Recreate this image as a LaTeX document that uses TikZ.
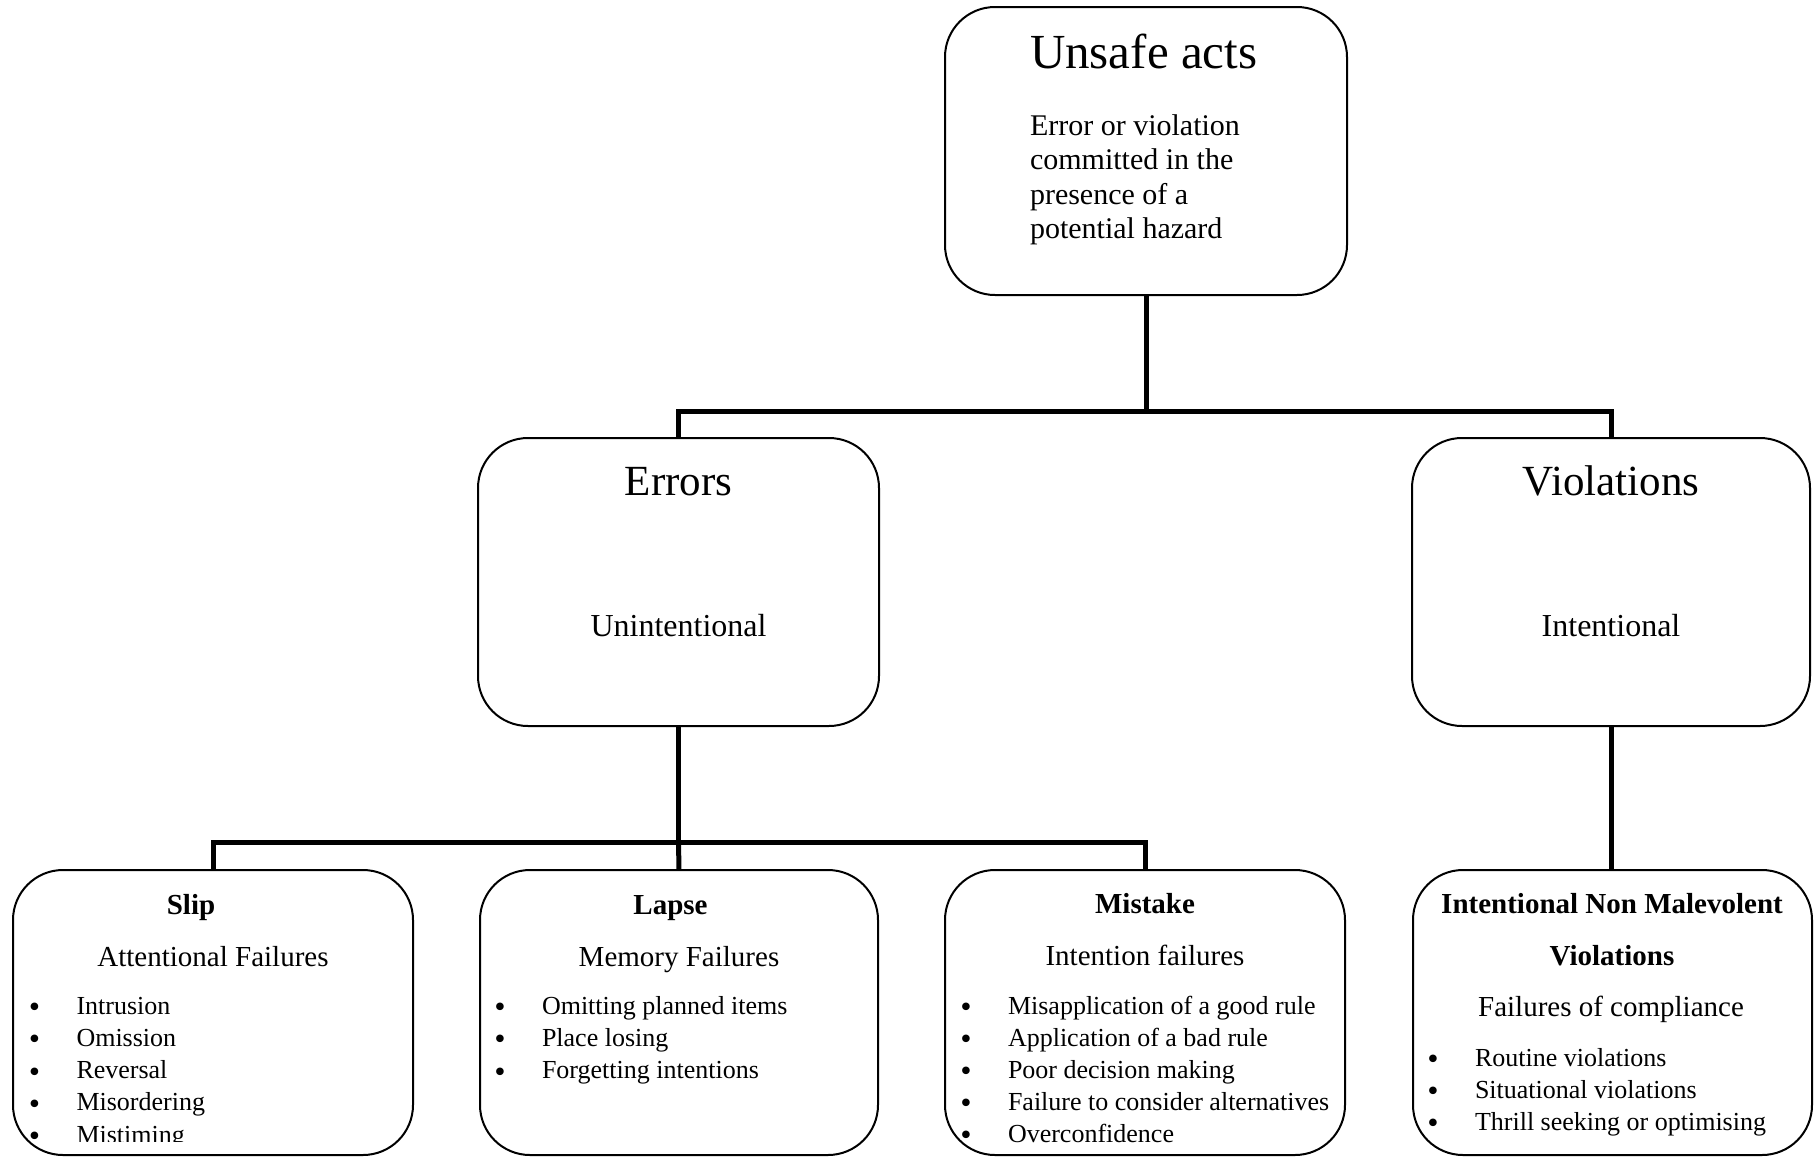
\documentclass[tikz,border=0pt]{standalone}
\usepackage{fontspec}
\setmainfont{Liberation Serif}
\newfontfamily\bulletfont{DejaVu Sans}
% one list entry: bullet centred on the anchor point, text 42pt to its right
\newcommand\bulletitem[1]{\makebox[0pt]{\raisebox{-2.5pt}{\bulletfont\symbol{"2022}}}\hspace{42pt}#1}
\tikzset{
  box/.style={draw, line width=2pt, rounded corners=50pt, inner sep=0pt, outer sep=0pt, anchor=north west},
  link/.style={line width=5pt, line join=miter},
  txt/.style={inner sep=0pt, outer sep=0pt, anchor=base},
  ltxt/.style={txt, anchor=base west},
  fbig/.style={font=\fontsize{49}{58}\selectfont},
  fhead/.style={font=\fontsize{43}{50}\selectfont},
  fsub/.style={font=\fontsize{32}{38}\selectfont},
  fbody/.style={font=\fontsize{30}{36}\selectfont},
  ftitle/.style={font=\bfseries\fontsize{29}{34}\selectfont},
  flabel/.style={font=\fontsize{29}{34}\selectfont},
  fitem/.style={font=\fontsize{26}{31}\selectfont},
}
\begin{document}
\begin{tikzpicture}[x=1pt,y=-1pt]
\useasboundingbox (0,0) rectangle (1816,1157);

% boxes
\node[box, minimum width=402pt, minimum height=288pt] (top) at (945,7) {};
\node[box, minimum width=401pt, minimum height=288pt] (err) at (478,438) {};
\node[box, minimum width=398pt, minimum height=288pt] (viol) at (1412,438) {};
\node[box, minimum width=400pt, minimum height=285pt] (slip) at (13,870) {};
\node[box, minimum width=398pt, minimum height=285pt] (lapse) at (480,870) {};
\node[box, minimum width=400pt, minimum height=285pt] (mist) at (945,870) {};
\node[box, minimum width=399pt, minimum height=285pt] (inm) at (1413,870) {};

% connectors
\coordinate (j1) at (1146,411);
\coordinate (j2) at (678.5,842);
\draw[link] (top.south) -- (j1);
\draw[link] (err.north) |- (j1) -| (viol.north);
\draw[link] (err.south) -- (j2);
\draw[link] (slip.north) |- (j2) -| (mist.north);
\draw[link] (j2) -- (lapse.north);
\draw[link] (viol.south) -- (viol.south |- inm.north);

% top box text
\node[ltxt, fbig] (top-t) at (1030,68) {Unsafe acts};
\node[ltxt, fbody] (top-1) at (1030,135) {Error or violation};
\node[ltxt, fbody] (top-2) at (1030,169.5) {committed in the};
\node[ltxt, fbody] (top-3) at (1030,204) {presence of a};
\node[ltxt, fbody] (top-4) at (1030,238.5) {potential hazard};

% second level
\node[txt, fhead] (err-t) at (678.5,495) {Errors};
\node[txt, fsub] (err-s) at (678.5,636) {Unintentional};
\node[txt, fhead] (viol-t) at (1611,495) {Violations};
\node[txt, fsub] (viol-s) at (1611,636) {Intentional};

% slip
\node[txt, ftitle] (slip-t) at (191,914) {Slip};
\node[txt, flabel] (slip-s) at (213,966) {Attentional Failures};
\foreach \t [count=\i] in {Intrusion, Omission, Reversal, Misordering} {
  \node[ltxt, fitem] (slip-i\i) at (34.5,{982+32.2*\i}) {\bulletitem{\t}};
}
\begin{scope}
  \clip (0,0) rectangle (1816,1141);
  \node[ltxt, fitem] (slip-i5) at (34.5,1143) {\bulletitem{Mistiming}};
\end{scope}

% lapse
\node[txt, ftitle] (lapse-t) at (670.5,914) {Lapse};
\node[txt, flabel] (lapse-s) at (679,966) {Memory Failures};
\foreach \t [count=\i] in {Omitting planned items, Place losing, Forgetting intentions} {
  \node[ltxt, fitem] (lapse-i\i) at (500,{982+32.2*\i}) {\bulletitem{\t}};
}

% mistake
\node[txt, ftitle] (mist-t) at (1145,913) {Mistake};
\node[txt, flabel] (mist-s) at (1145,965) {Intention failures};
\foreach \t [count=\i] in {Misapplication of a good rule, Application of a bad rule, Poor decision making, Failure to consider alternatives, Overconfidence} {
  \node[ltxt, fitem] (mist-i\i) at (966,{982+32*\i}) {\bulletitem{\t}};
}

% intentional non malevolent violations
\node[txt, ftitle] (inm-t1) at (1612,913) {Intentional Non Malevolent};
\node[txt, ftitle] (inm-t2) at (1612,965) {Violations};
\node[txt, flabel] (inm-s) at (1611,1016) {Failures of compliance};
\foreach \t [count=\i] in {Routine violations, Situational violations, Thrill seeking or optimising} {
  \node[ltxt, fitem] (inm-i\i) at (1433,{1034+32*\i}) {\bulletitem{\t}};
}
\end{tikzpicture}
\end{document}
